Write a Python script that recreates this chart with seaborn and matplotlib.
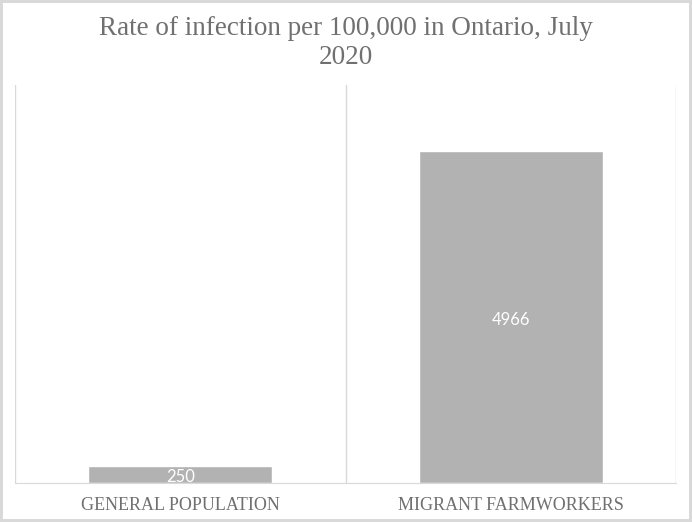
import pandas as pd
import seaborn as sns
import matplotlib.pyplot as plt

categories = ["GENERAL POPULATION", "MIGRANT FARMWORKERS"]
rates = [250, 4966]
title = "Rate of infection per 100,000 in Ontario, July\n2020"

df = pd.DataFrame({"Group": categories, "Rate": rates})

sns.set_style("white")
plt.rcParams["font.family"] = ["Liberation Serif", "DejaVu Serif"]

fig = plt.figure(figsize=(6.92, 5.22), dpi=100)
fig.patch.set_edgecolor("#d9d9d9")
fig.patch.set_linewidth(3)
ax = fig.add_axes([15 / 692, 39 / 522, 661 / 692, 398 / 522])

sns.barplot(data=df, x="Group", y="Rate", color="#b2b2b2", saturation=1,
            width=0.557, ax=ax)

ax.set_ylim(0, 5960)
ax.set_xlim(-0.5, 1.5)
for x in [-0.5, 0.5, 1.5]:
    ax.axvline(x, color="#d9d9d9", lw=1, zorder=0)
for s in ["top", "left", "right"]:
    ax.spines[s].set_visible(False)
ax.spines["bottom"].set_color("#d9d9d9")
ax.set_yticks([])
ax.set_xlabel("")
ax.set_ylabel("")
ax.tick_params(axis="x", length=0, pad=10, labelsize=13, labelcolor="#707070")

for i, v in enumerate(rates):
    ax.text(i, v / 2 - 40, str(v), ha="center", va="center", color="white",
            fontsize=12, family=["Lato", "DejaVu Sans"])

fig.text(0.5, 0.918, title, ha="center", va="center", fontsize=19.5,
         color="#707070", linespacing=1.2)

plt.savefig("out.png", dpi=100)
